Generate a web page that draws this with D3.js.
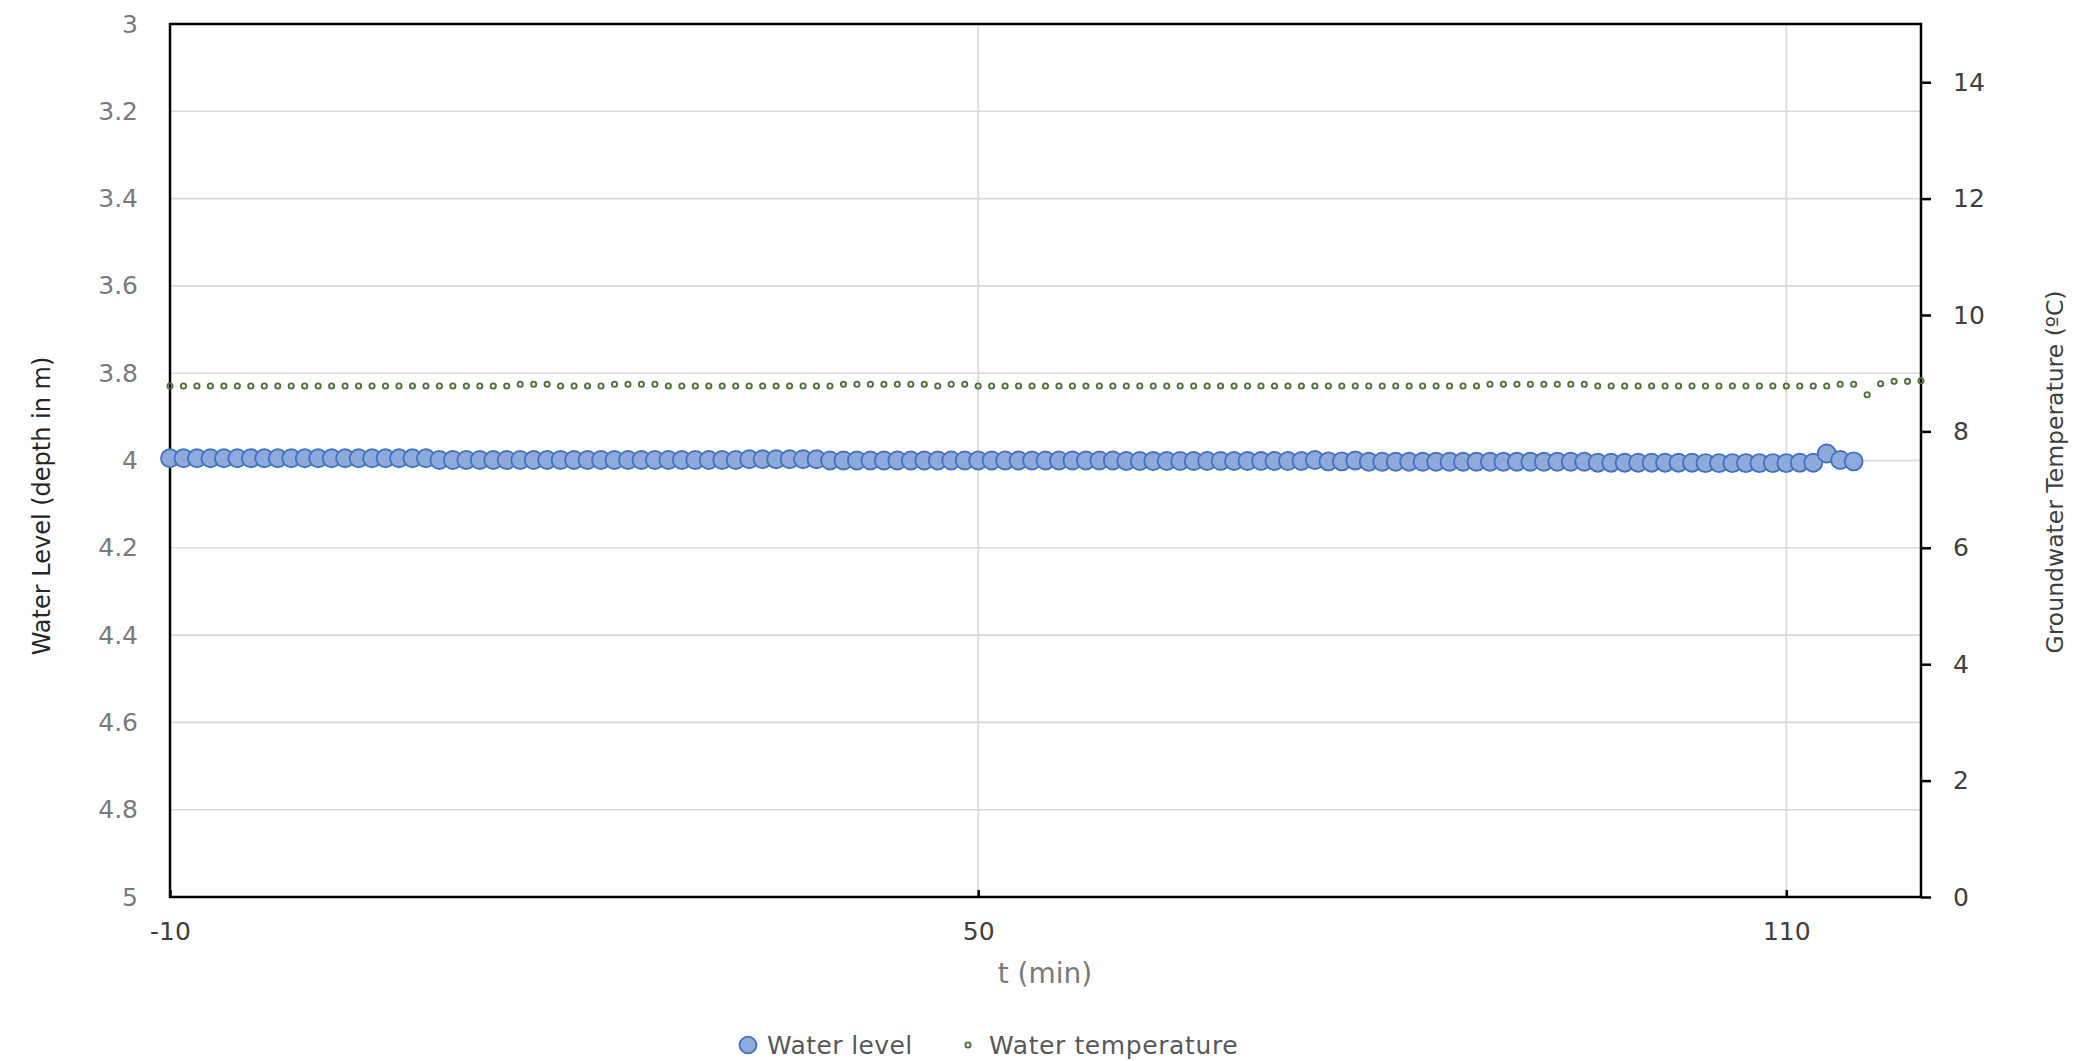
<!DOCTYPE html>
<html>
<head>
<meta charset="utf-8">
<script src="https://cdn.jsdelivr.net/npm/d3@7"></script>
<style>
  body { margin: 0; background: #ffffff; }
  svg { display: block; }
  text { font-family: "DejaVu Sans", sans-serif; }
</style>
</head>
<body>
<svg id="chart" width="2073" height="1061"></svg>
<script>
// Logger readings, one per minute
const minutes = [
  -10, -9, -8, -7, -6, -5, -4, -3, -2, -1,
  0, 1, 2, 3, 4, 5, 6, 7, 8, 9,
  10, 11, 12, 13, 14, 15, 16, 17, 18, 19,
  20, 21, 22, 23, 24, 25, 26, 27, 28, 29,
  30, 31, 32, 33, 34, 35, 36, 37, 38, 39,
  40, 41, 42, 43, 44, 45, 46, 47, 48, 49,
  50, 51, 52, 53, 54, 55, 56, 57, 58, 59,
  60, 61, 62, 63, 64, 65, 66, 67, 68, 69,
  70, 71, 72, 73, 74, 75, 76, 77, 78, 79,
  80, 81, 82, 83, 84, 85, 86, 87, 88, 89,
  90, 91, 92, 93, 94, 95, 96, 97, 98, 99,
  100, 101, 102, 103, 104, 105, 106, 107, 108, 109,
  110, 111, 112, 113, 114, 115, 116, 117, 118, 119,
  120
];

// Water level, depth below reference in m (t = -10 .. 115)
const waterLevel = [
  3.995, 3.995, 3.995, 3.995, 3.995, 3.995, 3.995, 3.995, 3.995, 3.995,
  3.995, 3.995, 3.995, 3.995, 3.995, 3.995, 3.995, 3.995, 3.995, 3.995,
  3.999, 3.999, 3.999, 3.999, 3.999, 3.999, 3.999, 3.999, 3.999, 3.999,
  3.999, 3.999, 3.999, 3.999, 3.999, 3.999, 3.999, 3.999, 3.999, 3.999,
  3.999, 3.999, 3.999, 3.997, 3.997, 3.997, 3.997, 3.997, 3.997, 4.000,
  4.000, 4.000, 4.000, 4.000, 4.000, 4.000, 4.000, 4.000, 4.000, 4.000,
  4.000, 4.000, 4.000, 4.000, 4.000, 4.000, 4.000, 4.000, 4.000, 4.000,
  4.000, 4.001, 4.001, 4.001, 4.001, 4.001, 4.001, 4.001, 4.001, 4.001,
  4.001, 4.001, 4.001, 4.001, 4.001, 3.999, 4.002, 4.002, 4.000, 4.003,
  4.003, 4.003, 4.003, 4.003, 4.003, 4.003, 4.003, 4.003, 4.003, 4.003,
  4.003, 4.003, 4.003, 4.003, 4.003, 4.003, 4.005, 4.005, 4.005, 4.005,
  4.005, 4.005, 4.005, 4.005, 4.006, 4.006, 4.006, 4.006, 4.006, 4.006,
  4.006, 4.005, 4.005, 3.984, 3.999, 4.002
];

// Groundwater temperature in °C (t = -10 .. 120)
const waterTemp = [
  8.78, 8.78, 8.78, 8.78, 8.78, 8.78, 8.78, 8.78, 8.78, 8.78,
  8.78, 8.78, 8.78, 8.78, 8.78, 8.78, 8.78, 8.78, 8.78, 8.78,
  8.78, 8.78, 8.78, 8.78, 8.78, 8.78, 8.81, 8.81, 8.81, 8.78,
  8.78, 8.78, 8.78, 8.81, 8.81, 8.81, 8.81, 8.78, 8.78, 8.78,
  8.78, 8.78, 8.78, 8.78, 8.78, 8.78, 8.78, 8.78, 8.78, 8.78,
  8.81, 8.81, 8.81, 8.81, 8.81, 8.81, 8.81, 8.78, 8.81, 8.81,
  8.78, 8.78, 8.78, 8.78, 8.78, 8.78, 8.78, 8.78, 8.78, 8.78,
  8.78, 8.78, 8.78, 8.78, 8.78, 8.78, 8.78, 8.78, 8.78, 8.78,
  8.78, 8.78, 8.78, 8.78, 8.78, 8.78, 8.78, 8.78, 8.78, 8.78,
  8.78, 8.78, 8.78, 8.78, 8.78, 8.78, 8.78, 8.78, 8.81, 8.81,
  8.81, 8.81, 8.81, 8.81, 8.81, 8.81, 8.78, 8.78, 8.78, 8.78,
  8.78, 8.78, 8.78, 8.78, 8.78, 8.78, 8.78, 8.78, 8.78, 8.78,
  8.78, 8.78, 8.78, 8.78, 8.81, 8.81, 8.63, 8.82, 8.86, 8.86,
  8.87
];

// Axis ticks and their labels
const timeTicks = [-10, 50, 110];
const timeTickLabels = ["-10", "50", "110"];
const levelTicks = [3, 3.2, 3.4, 3.6, 3.8, 4, 4.2, 4.4, 4.6, 4.8, 5];
const levelTickLabels = ["3", "3.2", "3.4", "3.6", "3.8", "4", "4.2", "4.4", "4.6", "4.8", "5"];
const tempTicks = [0, 2, 4, 6, 8, 10, 12, 14];
const tempTickLabels = ["0", "2", "4", "6", "8", "10", "12", "14"];

const seriesNames = ["Water level", "Water temperature"];

// ---------- layout ----------
const plot = { left: 170, right: 1921, top: 24, bottom: 897 };
const svg = d3.select("#chart");

const x = d3.scaleLinear().domain([-10, 120]).range([plot.left, plot.right]);
const yLevel = d3.scaleLinear().domain([3, 5]).range([plot.top, plot.bottom]);
const yTemp = d3.scaleLinear().domain([0, 15]).range([plot.bottom, plot.top]);

const gridColor = "#d9d9d9";
const levelFill = "#8eaadb", levelStroke = "#4472c4";
const tempStroke = "#4c7432";
const levelR = 9, tempR = 2.6;

// gridlines
const grid = svg.append("g").attr("class", "grid");
grid.selectAll("line.h")
  .data(levelTicks.slice(1, -1))
  .join("line")
  .attr("class", "h")
  .attr("x1", plot.left).attr("x2", plot.right)
  .attr("y1", d => yLevel(d)).attr("y2", d => yLevel(d))
  .attr("stroke", gridColor).attr("stroke-width", 1.6);
grid.selectAll("line.v")
  .data(timeTicks.slice(1))
  .join("line")
  .attr("class", "v")
  .attr("x1", d => x(d)).attr("x2", d => x(d))
  .attr("y1", plot.top).attr("y2", plot.bottom)
  .attr("stroke", gridColor).attr("stroke-width", 1.6);

// plot frame
svg.append("rect")
  .attr("x", plot.left).attr("y", plot.top)
  .attr("width", plot.right - plot.left).attr("height", plot.bottom - plot.top)
  .attr("fill", "none").attr("stroke", "#000").attr("stroke-width", 2.5);

// left axis (depth)
const leftAxis = svg.append("g")
  .attr("transform", `translate(${plot.left},0)`)
  .call(d3.axisLeft(yLevel).tickValues(levelTicks)
    .tickFormat((d, i) => levelTickLabels[i]).tickSize(0).tickPadding(32));
leftAxis.select(".domain").remove();
leftAxis.selectAll("text")
  .attr("font-family", "DejaVu Sans").attr("font-size", 25).attr("fill", "#7a7a7a");

// right axis (temperature)
const rightAxis = svg.append("g")
  .attr("transform", `translate(${plot.right},0)`)
  .call(d3.axisRight(yTemp).tickValues(tempTicks)
    .tickFormat((d, i) => tempTickLabels[i]).tickSize(10).tickPadding(22));
rightAxis.select(".domain").remove();
rightAxis.selectAll("line").attr("stroke", "#000").attr("stroke-width", 2.5);
rightAxis.selectAll("text")
  .attr("font-family", "DejaVu Sans").attr("font-size", 25).attr("fill", "#404040");

// bottom axis (time)
const bottomAxis = svg.append("g")
  .attr("transform", `translate(0,${plot.bottom})`)
  .call(d3.axisBottom(x).tickValues(timeTicks)
    .tickFormat((d, i) => timeTickLabels[i]).tickSizeInner(-7).tickSizeOuter(0).tickPadding(25));
bottomAxis.select(".domain").remove();
bottomAxis.selectAll("line").attr("stroke", "#000").attr("stroke-width", 2.5);
bottomAxis.selectAll("text")
  .attr("font-family", "DejaVu Sans").attr("font-size", 25).attr("fill", "#404040");

// axis titles
svg.append("text")
  .attr("x", 1045).attr("y", 983)
  .attr("text-anchor", "middle")
  .attr("font-size", 28).attr("fill", "#7a7a7a")
  .text("t (min)");
svg.append("text")
  .attr("transform", "translate(42,506) rotate(-90)")
  .attr("text-anchor", "middle").attr("dominant-baseline", "central")
  .attr("font-size", 24).attr("fill", "#262626")
  .text("Water Level (depth in m)");
svg.append("text")
  .attr("transform", "translate(2055,472) rotate(-90)")
  .attr("text-anchor", "middle").attr("dominant-baseline", "central")
  .attr("font-size", 23.5).attr("fill", "#404040")
  .text("Groundwater Temperature (ºC)");

// water level markers
const levelPts = waterLevel.map((v, i) => ({ t: minutes[i], v }));
svg.append("g").selectAll("circle")
  .data(levelPts)
  .join("circle")
  .attr("cx", d => x(d.t)).attr("cy", d => yLevel(d.v))
  .attr("r", levelR)
  .attr("fill", levelFill).attr("stroke", levelStroke).attr("stroke-width", 1.9);

// temperature markers
const tempPts = waterTemp.map((v, i) => ({ t: minutes[i], v }));
svg.append("g").selectAll("circle")
  .data(tempPts)
  .join("circle")
  .attr("cx", d => x(d.t)).attr("cy", d => yTemp(d.v))
  .attr("r", tempR)
  .attr("fill", "none").attr("stroke", tempStroke).attr("stroke-width", 1.9);

// legend
const legendY = 1045;
const legend = svg.append("g");
legend.append("circle")
  .attr("cx", 748).attr("cy", legendY).attr("r", 8.4)
  .attr("fill", levelFill).attr("stroke", levelStroke).attr("stroke-width", 1.9);
legend.append("text")
  .attr("x", 767).attr("y", legendY).attr("dominant-baseline", "central")
  .attr("font-size", 25).attr("letter-spacing", 0.4).attr("fill", "#595959")
  .text(seriesNames[0]);
legend.append("circle")
  .attr("cx", 968).attr("cy", legendY).attr("r", tempR)
  .attr("fill", "none").attr("stroke", tempStroke).attr("stroke-width", 1.9);
legend.append("text")
  .attr("x", 989).attr("y", legendY).attr("dominant-baseline", "central")
  .attr("font-size", 25).attr("letter-spacing", 0.6).attr("fill", "#595959")
  .text(seriesNames[1]);
</script>
</body>
</html>
